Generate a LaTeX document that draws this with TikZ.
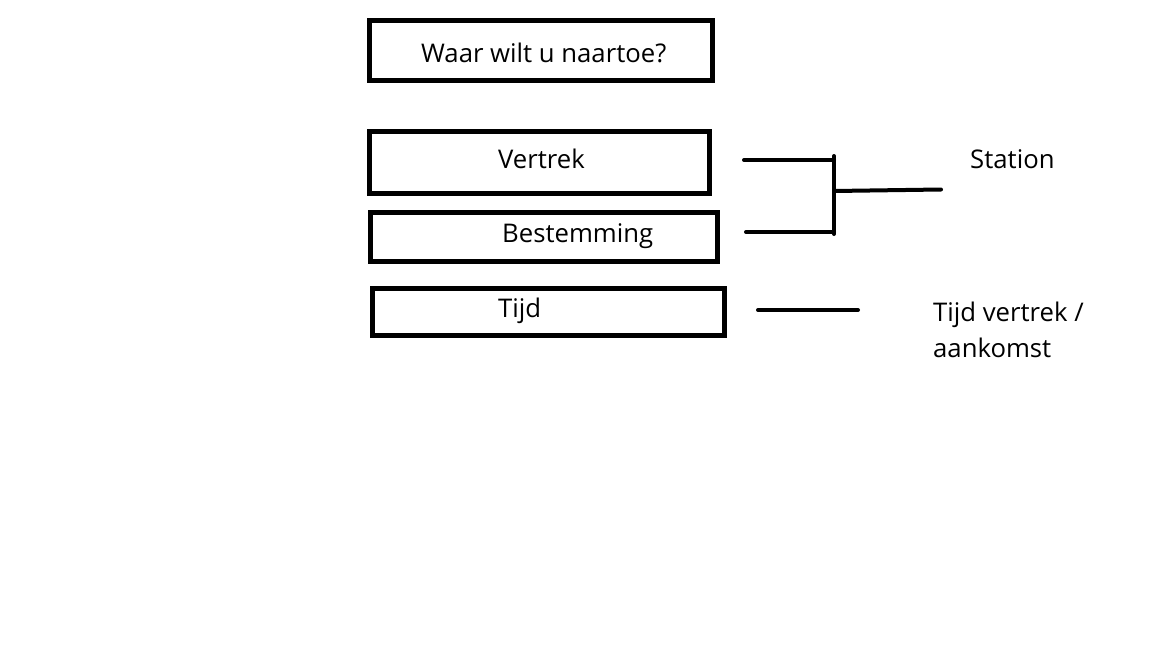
\documentclass[tikz,border=0pt]{standalone}
\usepackage{fontspec}
\setmainfont{Open Sans}
\begin{document}
\begin{tikzpicture}[x=1pt,y=-1pt,
  box/.style={draw=black,line width=5pt,inner sep=0pt},
  lbl/.style={anchor=base west,inner sep=0pt,font=\fontsize{25.7}{36}\selectfont},
  wire/.style={line width=4pt,line cap=round}]
\useasboundingbox (0,0) rectangle (1152,648);
\fill[white] (0,0) rectangle (1152,648);
% boxes
\node[box,minimum width=343pt,minimum height=60pt] (q) at (540.5,50) {};
\node[box,minimum width=340pt,minimum height=62pt] (v) at (539.5,162) {};
\node[box,minimum width=347pt,minimum height=49pt] (b) at (543.5,236.5) {};
\node[box,minimum width=352pt,minimum height=47pt] (t) at (548,311.5) {};
% labels
\node[lbl] (qt) at (421,62) {Waar wilt u naartoe?};
\node[lbl] (vt) at (498,168) {Vertrek};
\node[lbl] (bt) at (502,242) {Bestemming};
\node[lbl] (tt) at (498,317) {Tijd};
\node[lbl] (st) at (970,168) {Station};
\node[lbl] (tv1) at (933,321) {Tijd vertrek /};
\node[lbl] (tv2) at (933,357) {aankomst};
% connectors
\coordinate (a1) at (744,160);
\coordinate (a2) at (834,160);
\coordinate (b1) at (746,232);
\coordinate (b2) at (834,232);
\coordinate (m1) at (834,191);
\coordinate (m2) at (941,189.5);
\coordinate (vtop) at (834,156);
\coordinate (vbot) at (834,234);
\coordinate (t1) at (758,310);
\coordinate (t2) at (858,310);
\draw[wire] (a1) -- (a2);
\draw[wire] (b1) -- (b2);
\draw[wire] (vtop) -- (vbot);
\draw[wire] (m1) -- (m2);
\draw[wire] (t1) -- (t2);
\end{tikzpicture}
\end{document}
